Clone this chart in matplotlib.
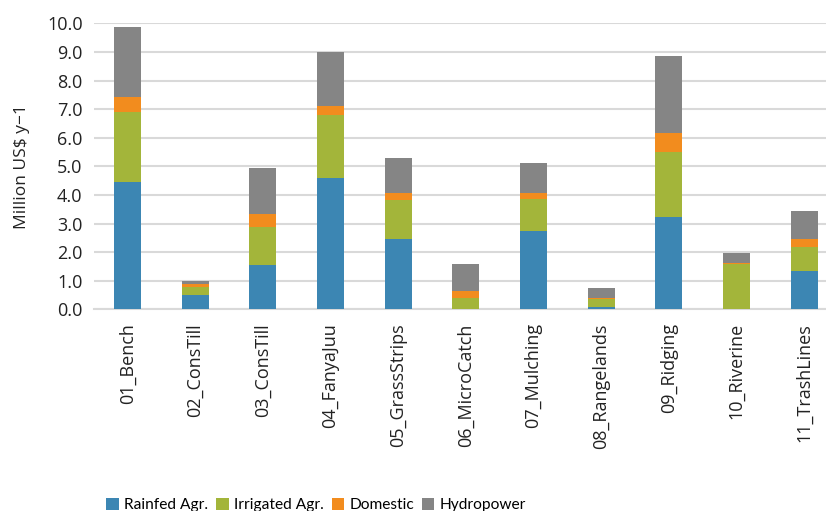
import matplotlib
matplotlib.use("Agg")
import matplotlib.pyplot as plt
import numpy as np

categories = ['01_Bench', '02_ConsTill', '03_ConsTill', '04_FanyaJuu', '05_GrassStrips',
              '06_MicroCatch', '07_Mulching', '08_Rangelands', '09_Ridging', '10_Riverine',
              '11_TrashLines']
rainfed = [4.46, 0.50, 1.55, 4.60, 2.45, 0.00, 2.75, 0.09, 3.22, 0.00, 1.34]
irrigated = [2.45, 0.29, 1.34, 2.19, 1.37, 0.38, 1.10, 0.26, 2.29, 1.57, 0.85]
domestic = [0.50, 0.10, 0.43, 0.32, 0.26, 0.26, 0.23, 0.06, 0.67, 0.06, 0.26]
hydropower = [2.45, 0.11, 1.61, 1.90, 1.22, 0.93, 1.02, 0.32, 2.68, 0.33, 0.99]

series = [('Rainfed Agr.', rainfed, '#3C86B3'),
          ('Irrigated Agr.', irrigated, '#A3B53A'),
          ('Domestic', domestic, '#F28C1E'),
          ('Hydropower', hydropower, '#858585')]

plt.rcParams['font.family'] = ['Open Sans', 'DejaVu Sans']

fig = plt.figure(figsize=(8.26, 5.11), dpi=100)
ax = fig.add_axes([0.1134, 0.3947, 0.901, 0.5595])

x = np.arange(len(categories))
bottom = np.zeros(len(categories))
handles = []
for name, vals, col in series:
    h = ax.bar(x, vals, width=0.4, bottom=bottom, color=col, label=name, zorder=3)
    handles.append(h)
    bottom = bottom + np.array(vals)

ax.set_ylim(0, 10)
ax.set_xlim(-0.5, len(categories) - 0.5)
ax.set_yticks(np.arange(0, 10.5, 1.0))
ax.set_yticklabels(['%.1f' % v for v in np.arange(0, 10.5, 1.0)], fontsize=13, color='#222222')
ax.set_xticks(x)
ax.set_xticklabels(categories, rotation=90, fontsize=13, color='#222222')
ax.tick_params(axis='both', length=0)
ax.tick_params(axis='x', pad=10)
ax.tick_params(axis='y', pad=8)
ax.grid(axis='y', color='#D9D9D9', linewidth=1.5, zorder=0)
for s in ['top', 'right', 'left']:
    ax.spines[s].set_visible(False)
ax.spines['bottom'].set_color('#D9D9D9')
ax.spines['bottom'].set_linewidth(1.5)

ax.set_ylabel('Million US$ y\u22121', fontsize=12.5, color='#222222', labelpad=12)

fig.legend(handles=handles, loc='lower center', bbox_to_anchor=(0.383, -0.03), ncol=4,
           frameon=False, handlelength=0.8, handleheight=0.8, handletextpad=0.35,
           columnspacing=0.5, prop={'family': 'Lato', 'size': 11.2})

fig.savefig('out.png', dpi=100)
